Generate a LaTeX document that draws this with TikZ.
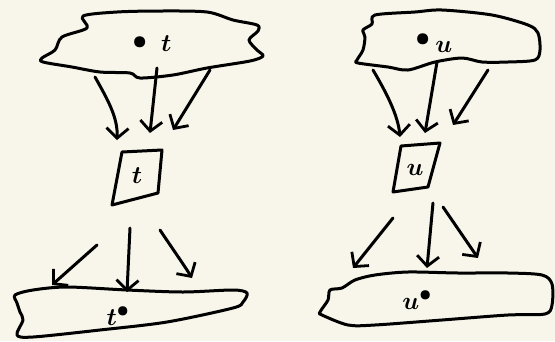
\documentclass[tikz,border=0pt]{standalone}
\usetikzlibrary{arrows.meta}
\definecolor{paper}{RGB}{248,246,234}
\begin{document}
\begin{tikzpicture}[x=1pt,y=-1pt,
  ink/.style={line width=3pt, line cap=round, line join=round},
  arr/.style={ink,-{Straight Barb[length=10pt,width=22pt,line width=2.8pt]}},
  lbl/.style={font=\fontsize{32}{32}\selectfont\boldmath, inner sep=0pt}]
\fill[paper] (0,0) rectangle (555,341);
\useasboundingbox (0,0) rectangle (555,341);
% ---------- left column ----------
% top blob
\draw[ink] plot[smooth cycle, tension=0.5] coordinates {
 (83,16) (117,12) (160,11) (207,12) (233,20) (257,25) (258,31) (249,40)
 (257,50) (263,56) (250,61) (207,68) (173,75) (140,78) (130,73) (100,72)
 (72,67) (43,62) (42,58) (55,50) (62,37) (87,28)};
\node[lbl] (topT) at (152,44) {\raisebox{3pt}{$\bullet$}\;\,$t$};
% box t
\node[lbl] (boxT) at (137,176) {$t$};
\draw[ink] (122,152) -- (162,150) -- (158,193) -- (112,205) -- cycle;
% bottom blob
\draw[ink] plot[smooth cycle, tension=0.5] coordinates {
 (15,295) (33,290) (67,287) (127,290) (183,292) (233,290) (247,293)
 (243,302) (233,308) (167,322) (100,330) (33,337) (17,335) (23,320)
 (20,312) (17,303)};
\node[lbl] (botT) at (118,316) {$t^{\bullet}$};
% arrows top-left
\coordinate (a1s) at (95,77);  \coordinate (a1e) at (117,140);
\coordinate (a2s) at (157,68); \coordinate (a2e) at (150,133);
\coordinate (a3s) at (210,70); \coordinate (a3e) at (173,130);
\draw[arr] (a1s) .. controls (108,100) and (118,118) .. (a1e);
\draw[arr] (a2s) -- (a2e);
\draw[arr] (a3s) -- (a3e);
% arrows bottom-left
\coordinate (b1s) at (97,245);  \coordinate (b1e) at (52,285);
\coordinate (b2s) at (130,228); \coordinate (b2e) at (127,292);
\coordinate (b3s) at (160,230); \coordinate (b3e) at (192,278);
\draw[arr] (b1s) -- (b1e);
\draw[arr] (b2s) -- (b2e);
\draw[arr] (b3s) .. controls (172,248) and (184,265) .. (b3e);
% ---------- right column ----------
\draw[ink] plot[smooth cycle, tension=0.5] coordinates {
 (375,15) (415,12) (442,10) (492,15) (528,25) (538,33) (540,50) (535,60)
 (508,62) (482,62) (462,58) (435,62) (408,70) (388,67) (358,63) (357,60)
 (363,50) (365,37) (363,30) (372,24)};
\node[lbl] (topU) at (434,43) {\raisebox{7pt}{$\bullet$}\,$u$};
\node[lbl] (boxU) at (415,170) {$u$};
\draw[ink] (401,146) -- (440,143) -- (428,187) -- (393,192) -- cycle;
\draw[ink] plot[smooth cycle, tension=0.5] coordinates {
 (355,280) (375,275) (408,272) (458,273) (508,273) (542,275) (552,284)
 (552,305) (545,314) (508,315) (442,320) (375,325) (348,325) (322,315)
 (320,312) (328,300) (330,290) (342,288)};
\node[lbl] (botU) at (417,300) {$u^{\bullet}$};
\coordinate (c1s) at (373,70);  \coordinate (c1e) at (400,137);
\coordinate (c2s) at (437,62);  \coordinate (c2e) at (425,133);
\coordinate (c3s) at (488,70);  \coordinate (c3e) at (453,125);
\draw[arr] (c1s) .. controls (386,92) and (398,115) .. (c1e);
\draw[arr] (c2s) -- (c2e);
\draw[arr] (c3s) -- (c3e);
\coordinate (d1s) at (393,218); \coordinate (d1e) at (353,268);
\coordinate (d2s) at (433,203); \coordinate (d2e) at (427,268);
\coordinate (d3s) at (443,207); \coordinate (d3e) at (478,258);
\draw[arr] (d1s) -- (d1e);
\draw[arr] (d2s) -- (d2e);
\draw[arr] (d3s) -- (d3e);
\end{tikzpicture}
\end{document}
